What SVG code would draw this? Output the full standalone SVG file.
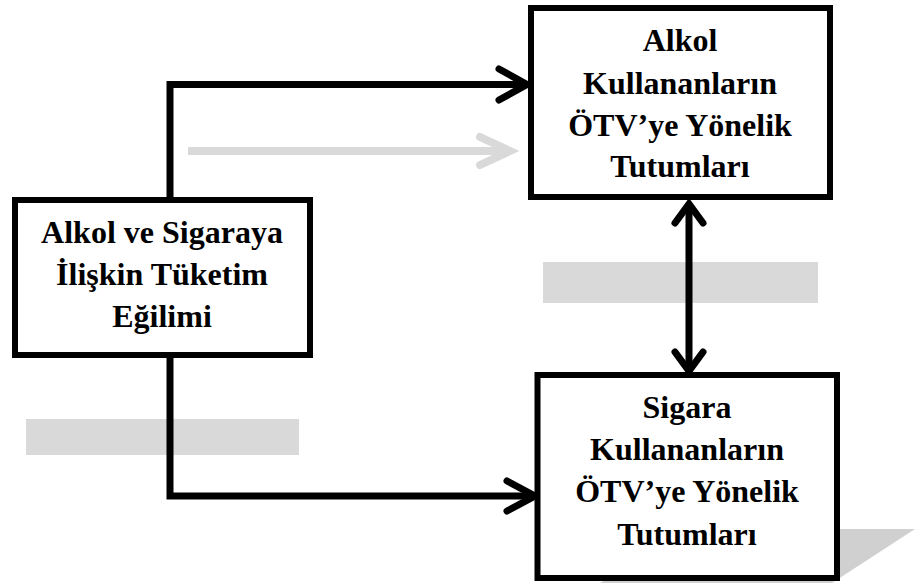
<svg xmlns="http://www.w3.org/2000/svg" width="915" height="583" viewBox="0 0 915 583">
<style>
.box{fill:#fff;stroke:#000;stroke-width:6}
.lbl{font-family:"Liberation Serif","Times New Roman",serif;font-weight:bold;font-size:32px;fill:#000;text-anchor:middle}
.conn{fill:none;stroke:#000;stroke-width:7;stroke-linecap:butt}
.head{fill:none;stroke:#000;stroke-width:7;stroke-linecap:round;stroke-linejoin:miter}
.ghost{fill:#d9d9d9}
</style>
<g id="decor">
<rect class="ghost" x="543" y="262" width="275" height="41"/>
<rect class="ghost" x="26" y="419" width="273" height="36"/>
<line x1="188" y1="151" x2="510" y2="151" stroke="#d9d9d9" stroke-width="8"/>
<polyline points="480,137 510,151 480,165" fill="none" stroke="#d9d9d9" stroke-width="8" stroke-linecap="round"/>
<polygon points="600,583 832,583 915,529 700,529" fill="#d0d0d0"/>
</g>
<g id="connectors">
<polyline class="conn" points="170,197 170,84.5 525,84.5"/>
<polyline class="head" points="499,69 527,84.5 499,100"/>
<polyline class="conn" points="170,358 170,496 533,496"/>
<polyline class="head" points="507,481 535,496 507,511"/>
<line class="conn" x1="689" y1="206" x2="689" y2="369"/>
<polyline class="head" points="675,223 689,204 703,223"/>
<polyline class="head" points="675,352 689,371 703,352"/>
</g>
<g id="node-tuketim">
<rect class="box" x="15" y="200" width="295" height="155"/>
<text class="lbl" x="162" y="243">Alkol ve Sigaraya</text>
<text class="lbl" x="162" y="285">İlişkin Tüketim</text>
<text class="lbl" x="162" y="327">Eğilimi</text>
</g>
<g id="node-alkol">
<rect class="box" x="531" y="8" width="299" height="189"/>
<text class="lbl" x="680" y="51">Alkol</text>
<text class="lbl" x="680" y="94">Kullananların</text>
<text class="lbl" x="680" y="136">ÖTV’ye Yönelik</text>
<text class="lbl" x="680" y="177">Tutumları</text>
</g>
<g id="node-sigara">
<rect class="box" x="537.5" y="375" width="299.5" height="203"/>
<text class="lbl" x="687" y="418">Sigara</text>
<text class="lbl" x="687" y="460">Kullananların</text>
<text class="lbl" x="687" y="502">ÖTV’ye Yönelik</text>
<text class="lbl" x="687" y="545">Tutumları</text>
</g>
</svg>
